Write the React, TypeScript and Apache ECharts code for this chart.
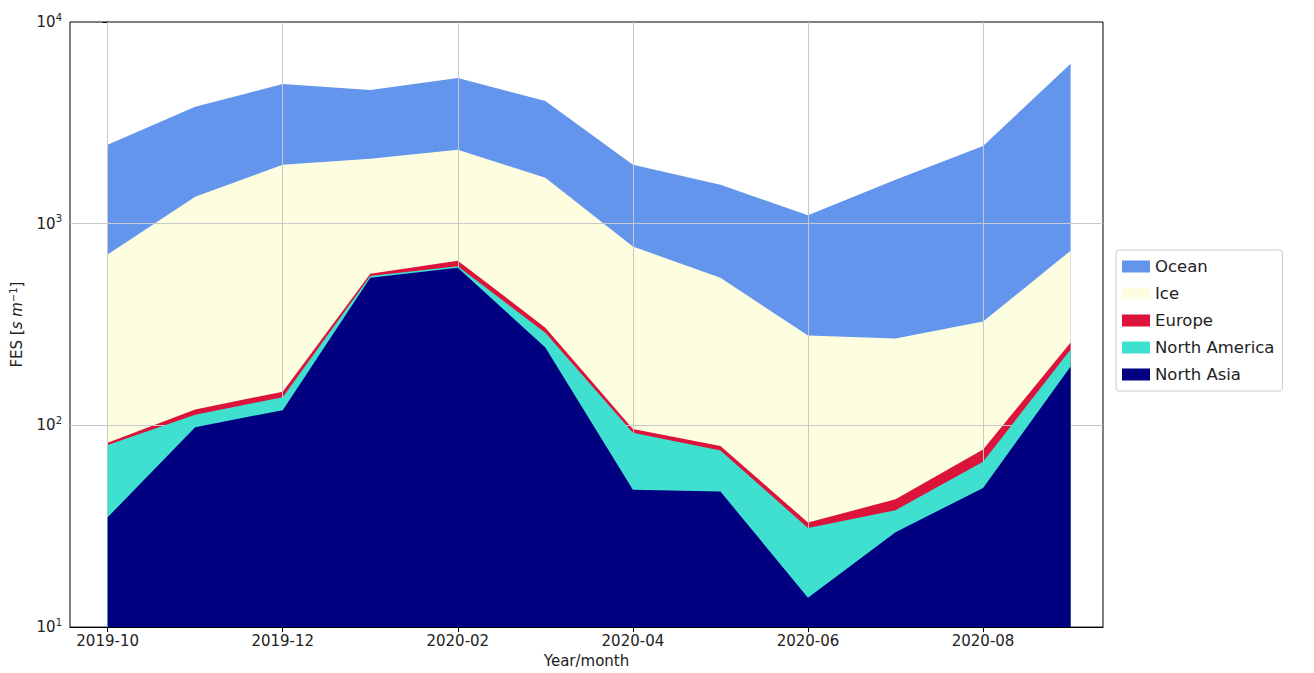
import React, { useEffect, useRef } from "react";
import * as echarts from "echarts";

const months = ["2019-10","2019-11","2019-12","2020-01","2020-02","2020-03","2020-04","2020-05","2020-06","2020-07","2020-08","2020-09"];
const labelIdx = [0, 2, 4, 6, 8, 10];
// cumulative top boundary of each stacked layer
const northAsiaTop = [35, 98, 119, 540, 605, 243, 48, 47, 14, 29.5, 49, 196];
const northAmericaTop = [80, 113, 138, 550, 615, 288, 92, 75, 31, 38, 66, 238];
const europeTop = [82, 120, 147, 565, 656, 305, 96, 79, 33, 43, 76, 258];
const iceTop = [703, 1360, 1960, 2100, 2325, 1690, 770, 540, 279, 270, 327, 735];
const oceanTop = [2460, 3800, 4930, 4600, 5280, 4060, 1960, 1560, 1100, 1650, 2430, 6200];

const layers = [
  { name: "Ocean", data: oceanTop, color: "#6495ED" },
  { name: "Ice", data: iceTop, color: "#FDFDE0" },
  { name: "Europe", data: europeTop, color: "#DC143C" },
  { name: "North America", data: northAmericaTop, color: "#40E0D0" },
  { name: "North Asia", data: northAsiaTop, color: "#000080" },
];

export default function App() {
  const ref = useRef<HTMLDivElement>(null);
  useEffect(() => {
    const chart = echarts.init(ref.current!, null, { renderer: "svg" });
    const font = "DejaVu Sans";
    const series: any[] = layers.map((l, i) => ({
      name: l.name,
      type: "line",
      data: l.data.map((v, k) => [k, v]),
      symbol: "none",
      lineStyle: { width: 0 },
      itemStyle: { color: l.color },
      areaStyle: { color: l.color, opacity: 1, origin: "start" },
      z: 2 + i,
    }));
    series.push({
      type: "line",
      data: [],
      z: 20,
      markLine: {
        silent: true,
        symbol: "none",
        label: { show: false },
        lineStyle: { color: "#c8c8c8", width: 1, type: "solid" },
        data: [
          ...labelIdx.map((x) => ({ xAxis: x })),
          { yAxis: 100 },
          { yAxis: 1000 },
        ],
      },
    });
    chart.setOption({
      animation: false,
      textStyle: { fontFamily: font },
      grid: { left: 70, top: 22, right: 211, bottom: 45, show: true, borderColor: "#000", borderWidth: 1, backgroundColor: "transparent" },
      legend: {
        orient: "vertical",
        left: 1116,
        top: 250,
        data: layers.map((l) => l.name),
        icon: "rect",
        itemWidth: 28,
        itemHeight: 12,
        itemGap: 10,
        padding: [8, 8, 8, 6],
        borderColor: "#ccc",
        borderWidth: 1,
        borderRadius: 3,
        textStyle: { fontSize: 16.5, color: "#222", fontFamily: font },
      },
      xAxis: {
        type: "value",
        min: -0.43,
        max: 11.37,
        name: "Year/month",
        nameLocation: "middle",
        nameGap: 24,
        nameTextStyle: { fontSize: 15, color: "#222" },
        axisLine: { show: true, lineStyle: { color: "#000" } },
        axisTick: { show: true, customValues: labelIdx, lineStyle: { color: "#000" } },
        splitLine: { show: false },
        axisLabel: {
          customValues: labelIdx,
          formatter: (v: number) => months[Math.round(v)] || "",
          fontSize: 15,
          color: "#222",
          margin: 6,
        },
      },
      yAxis: {
        type: "log",
        logBase: 10,
        min: 10,
        max: 10000,
        name: "{n|FES [}{i|s m}{sup|−1}{n|]}",
        nameLocation: "middle",
        nameGap: 44,
        nameTextStyle: {
          rich: {
            n: { fontSize: 15, color: "#222" },
            i: { fontSize: 15, color: "#222", fontStyle: "italic" },
            sup: { fontSize: 10, color: "#222", padding: [0, 0, 8, 0] },
          },
        },
        axisLine: { show: true, lineStyle: { color: "#000" } },
        axisTick: { show: true, lineStyle: { color: "#000" } },
        minorTick: { show: false },
        splitLine: { show: false },
        axisLabel: {
          formatter: (v: number) => "{b|10}{s|" + Math.round(Math.log10(v)) + "}",
          rich: {
            b: { fontSize: 15, color: "#222" },
            s: { fontSize: 10, color: "#222", padding: [0, 0, 10, 0] },
          },
        },
      },
      series,
    });
    return () => chart.dispose();
  }, []);
  return <div ref={ref} style={{ position: "fixed", left: 0, top: 0, width: 1314, height: 673, background: "#fff" }} />;
}
